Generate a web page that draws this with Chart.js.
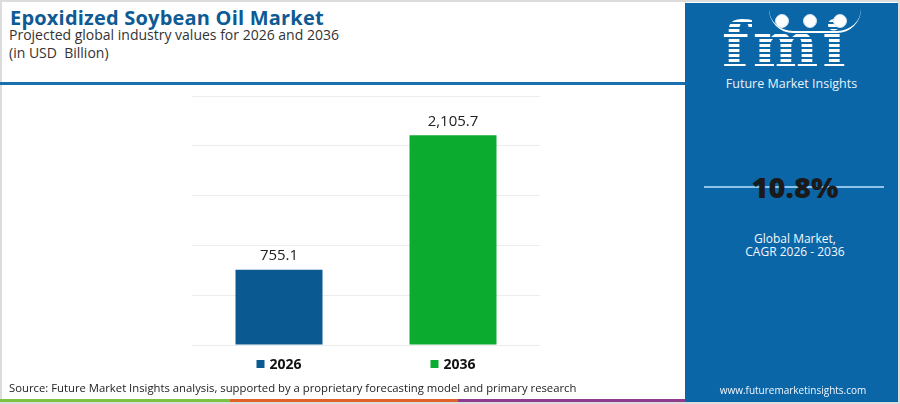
<!DOCTYPE html>
<html>
<head>
<meta charset="utf-8">
<script src="https://cdn.jsdelivr.net/npm/chart.js@4.4.1/dist/chart.umd.min.js"></script>
<style>
  body { margin: 0; width: 900px; height: 404px; overflow: hidden; background: #fff; font-family: "Open Sans", sans-serif; }
  #frame { position: absolute; left: 0; top: 0; width: 896px; height: 400px; border: 2px solid #dcdcdc; }
  #title { position: absolute; left: 10px; top: 4px; font-size: 20px; font-weight: 700; color: #0d5a94; letter-spacing: 0.2px; }
  #sub { position: absolute; left: 9px; top: 26px; font-size: 14px; color: #333; line-height: 18px; }
  #rule { position: absolute; left: 0; top: 82px; width: 685px; height: 3px; background: #1a6fae; }
  #panel { position: absolute; left: 685px; top: 3px; width: 213px; height: 399px; background: #0b66a8; color: #fff; text-align: center; }
  #logo { position: absolute; left: 37px; top: 11px; font-family: "DejaVu Serif", serif; font-weight: 700; font-size: 62px; line-height: 62px; letter-spacing: 4px;
          background: repeating-linear-gradient(#fff 0 3px, transparent 3px 5px); -webkit-background-clip: text; background-clip: text; color: transparent; }
  .dot { position: absolute; width: 12px; height: 12px; border-radius: 50%; background: #fff; border: 1px solid #cfe3f3; }
  #smile { position: absolute; left: 84px; top: 6px; width: 92px; height: 22px; border-bottom: 2px solid #fff; border-radius: 0 0 46px 46px; }
  #brand { position: absolute; left: 0; width: 213px; top: 72px; font-size: 12.5px; color: #e8f2fb; }
  #cagrLine { position: absolute; left: 19px; top: 183px; width: 180px; height: 2px; background: #8fc3ea; }
  #cagr { position: absolute; left: 0; width: 220px; top: 164px; font-size: 29px; font-weight: 800; color: #1a1a1a; font-family: "Open Sans", sans-serif; }
  #cagrTxt { position: absolute; left: 0; width: 220px; top: 229px; font-size: 12px; line-height: 13px; color: #f2f7fc; }
  #url { position: absolute; left: 0; width: 216px; top: 380px; font-size: 10px; color: #f2f7fc; }
  #source { position: absolute; left: 9px; top: 380px; font-size: 11.3px; color: #222; }
  .strip { position: absolute; top: 399px; height: 3px; }
  #chartBox { position: absolute; left: 192px; top: 86px; width: 348px; height: 300px; }
</style>
</head>
<body>
<div id="frame"></div>
<div id="title">Epoxidized Soybean Oil Market</div>
<div id="sub">Projected global industry values for 2026 and 2036<br>(in USD&nbsp; Billion)</div>
<div id="rule"></div>

<div id="chartBox"><canvas id="chart"></canvas></div>

<div id="source">Source: Future Market Insights analysis, supported by a proprietary forecasting model and primary research</div>
<div class="strip" style="left:0;width:230px;background:#7cc242"></div>
<div class="strip" style="left:230px;width:228px;background:#e0622a"></div>
<div class="strip" style="left:458px;width:227px;background:#8e3b8e"></div>

<div id="panel">
  <div id="logo">fmi</div>
  <div id="smile"></div>
  <div class="dot" style="left:90px;top:11px"></div>
  <div class="dot" style="left:118px;top:11px"></div>
  <div class="dot" style="left:148px;top:11px"></div>
  <div id="brand">Future Market Insights</div>
  <div id="cagrLine"></div>
  <div id="cagr">10.8%</div>
  <div id="cagrTxt">Global Market,<br>CAGR 2026 - 2036</div>
  <div id="url">www.futuremarketinsights.com</div>
</div>

<script>
const years = ["2026", "2036"];
const values = [755.1, 2105.7];
const barColors = ["#0a5a91", "#0bab2f"];
const valueLabels = ["755.1", "2,105.7"];

// value text above each bar + legend-like square & year under each bar
const barText = {
  id: "barText",
  afterDatasetsDraw(chart) {
    const ctx = chart.ctx;
    const meta = chart.getDatasetMeta(0);
    ctx.save();
    meta.data.forEach((bar, i) => {
      ctx.font = "15px 'Open Sans', sans-serif";
      ctx.fillStyle = "#222";
      ctx.textAlign = "center";
      ctx.textBaseline = "middle";
      ctx.fillText(valueLabels[i], bar.x, bar.y - 14);

      ctx.font = "bold 14px 'Open Sans', sans-serif";
      const w = ctx.measureText(years[i]).width;
      const group = 8 + 5 + w;
      const left = bar.x - group / 2;
      const y = chart.chartArea.bottom + 19;
      ctx.fillStyle = barColors[i];
      ctx.fillRect(left, y - 4, 8, 8);
      ctx.fillStyle = "#111";
      ctx.textAlign = "left";
      ctx.fillText(years[i], left + 13, y + 1);
    });
    ctx.restore();
  }
};

new Chart(document.getElementById("chart"), {
  type: "bar",
  data: {
    labels: years,
    datasets: [{
      data: values,
      backgroundColor: barColors,
      barPercentage: 0.5,
      categoryPercentage: 1
    }]
  },
  options: {
    responsive: true,
    maintainAspectRatio: false,
    animation: false,
    layout: { padding: { top: 10, bottom: 41, left: 0, right: 0 } },
    plugins: { legend: { display: false }, tooltip: { enabled: false } },
    scales: {
      x: { display: false },
      y: {
        min: 0, max: 2500,
        ticks: { display: false, stepSize: 500 },
        border: { display: false },
        grid: { color: "#ececec", drawTicks: false }
      }
    }
  },
  plugins: [barText]
});
</script>
</body>
</html>
